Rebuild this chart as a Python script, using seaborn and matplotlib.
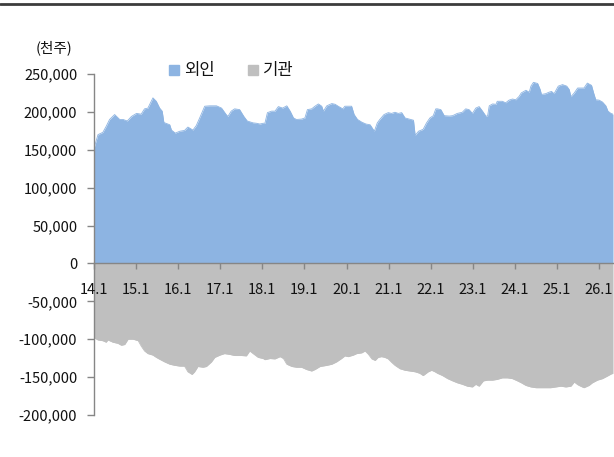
import matplotlib
matplotlib.use('Agg')
import matplotlib.pyplot as plt
from matplotlib.lines import Line2D
from matplotlib.ticker import FuncFormatter
import seaborn as sns

# x = years since Jan 2014, values in thousand shares (천주)
t_fgn = [0.00, 0.095, 0.21, 0.29, 0.37, 0.49, 0.61, 0.69, 0.79, 0.89, 1.01, 1.12, 1.20, 1.28,
         1.40, 1.48, 1.56, 1.62, 1.66, 1.80, 1.84, 1.93, 2.04, 2.15, 2.23, 2.35, 2.43, 2.51,
         2.63, 2.75, 2.91, 3.03, 3.14, 3.18, 3.26, 3.34, 3.46, 3.56, 3.64, 3.78, 3.86, 3.94,
         4.02, 4.06, 4.12, 4.22, 4.30, 4.38, 4.48, 4.58, 4.66, 4.74, 4.81, 4.93, 5.01, 5.07,
         5.17, 5.25, 5.33, 5.41, 5.45, 5.53, 5.65, 5.73, 5.80, 5.91, 5.96, 6.04, 6.12, 6.18,
         6.26, 6.36, 6.46, 6.56, 6.66, 6.73, 6.79, 6.89, 6.99, 7.07, 7.15, 7.23, 7.31, 7.39,
         7.49, 7.59, 7.63, 7.71, 7.82, 7.90, 7.98, 8.06, 8.12, 8.16, 8.24, 8.32, 8.44, 8.52,
         8.63, 8.75, 8.83, 8.91, 8.99, 9.07, 9.15, 9.23, 9.31, 9.35, 9.39, 9.47, 9.55, 9.58,
         9.70, 9.78, 9.86, 9.94, 10.02, 10.10, 10.15, 10.26, 10.34, 10.38, 10.44, 10.54, 10.60,
         10.63, 10.73, 10.81, 10.87, 10.93, 11.03, 11.13, 11.23, 11.29, 11.33, 11.41, 11.49,
         11.56, 11.64, 11.72, 11.82, 11.87, 11.92, 12.00, 12.08, 12.16, 12.21, 12.28, 12.33]
fgn = [152000, 170000, 173000, 181000, 190000, 196500, 190000, 190000, 188000, 194000, 198000,
       197000, 204000, 205000, 218500, 214000, 205000, 201000, 186000, 183000, 176000, 172000,
       174500, 175500, 180000, 176000, 182000, 192000, 207500, 208000, 208000, 205000, 196500,
       194000, 201000, 204000, 203000, 194000, 188000, 185500, 185000, 184000, 185000, 185000,
       199000, 201000, 201000, 207000, 205000, 208000, 201000, 192000, 190000, 190500, 192000,
       203000, 204000, 207500, 210500, 207500, 201000, 208000, 211000, 210000, 207500, 204000,
       207500, 207500, 207500, 196500, 190000, 186500, 184000, 183000, 174500, 185500, 190000,
       196500, 199000, 198000, 199500, 198000, 199000, 192000, 190500, 189000, 169000, 174500,
       177000, 185500, 192000, 195000, 204000, 204000, 203000, 195000, 194500, 195000, 198000,
       199500, 204000, 203000, 198000, 205000, 207000, 201000, 194500, 194500, 208000, 210500,
       210000, 214000, 214000, 212000, 215500, 217000, 216000, 220500, 225000, 228500, 226000,
       234000, 239000, 237500, 229500, 223000, 224000, 226000, 227000, 224000, 234000, 236000,
       234000, 229500, 220000, 225000, 231500, 231500, 231500, 238000, 235000, 225000, 216000,
       215500, 213000, 208000, 201000, 198000, 197000]

t_inst = [0.00, 0.095, 0.21, 0.29, 0.33, 0.45, 0.57, 0.65, 0.73, 0.81, 0.93, 1.05, 1.12, 1.20,
          1.28, 1.40, 1.48, 1.56, 1.68, 1.80, 1.92, 2.04, 2.15, 2.23, 2.33, 2.39, 2.47, 2.59,
          2.67, 2.79, 2.87, 2.99, 3.10, 3.22, 3.34, 3.50, 3.62, 3.70, 3.78, 3.90, 4.02, 4.06,
          4.18, 4.30, 4.42, 4.50, 4.58, 4.70, 4.81, 4.93, 5.05, 5.17, 5.25, 5.37, 5.53, 5.65,
          5.76, 5.88, 5.96, 6.04, 6.16, 6.24, 6.36, 6.44, 6.52, 6.60, 6.68, 6.75, 6.83, 6.91,
          6.99, 7.07, 7.15, 7.27, 7.39, 7.51, 7.63, 7.74, 7.82, 7.94, 8.02, 8.10, 8.16, 8.28,
          8.40, 8.52, 8.63, 8.75, 8.87, 8.99, 9.07, 9.15, 9.25, 9.35, 9.47, 9.58, 9.70, 9.82,
          9.94, 10.06, 10.15, 10.26, 10.38, 10.50, 10.61, 10.73, 10.85, 10.97, 11.09, 11.21,
          11.33, 11.41, 11.49, 11.56, 11.64, 11.76, 11.84, 11.96, 12.08, 12.20, 12.28, 12.33]
inst = [-98000, -101000, -102000, -104000, -101000, -104000, -105500, -108000, -107000,
        -100000, -100000, -102000, -109000, -115500, -119000, -121000, -124000, -126500,
        -130000, -133000, -134500, -135500, -135500, -143000, -146500, -143000, -136000,
        -137000, -136000, -130000, -124000, -121000, -119000, -120000, -121500, -121500,
        -122000, -115500, -119000, -124000, -125500, -127000, -125500, -126000, -123000,
        -125500, -133000, -136000, -137000, -137000, -140000, -142000, -140000, -136000,
        -134500, -133000, -130000, -125500, -122000, -123000, -121000, -119000, -118000,
        -115500, -120000, -126000, -128000, -124000, -123000, -124000, -126000, -130500,
        -134500, -139000, -141000, -142000, -143000, -145000, -148000, -143000, -141000,
        -143000, -145000, -148000, -152000, -155000, -157500, -159500, -162000, -163000,
        -159500, -162000, -155000, -154000, -154000, -153000, -151000, -151000, -152000,
        -155000, -157500, -161000, -163000, -164000, -164000, -164000, -164000, -163000,
        -162000, -163000, -162000, -156500, -160000, -162000, -164000, -161000, -157500,
        -154000, -152000, -148500, -146000, -145000]

x_ticks = list(range(13))
x_labels = ['14.1', '15.1', '16.1', '17.1', '18.1', '19.1', '20.1',
            '21.1', '22.1', '23.1', '24.1', '25.1', '26.1']
y_ticks = [-200000, -150000, -100000, -50000, 0, 50000, 100000, 150000, 200000, 250000]

blue = '#8DB4E2'
grey = '#BFBFBF'
axis_col = '#868686'

sns.set_style('white')
plt.rcParams['font.family'] = ['Noto Sans CJK KR', 'DejaVu Sans']
plt.rcParams['text.color'] = '#111111'

fig = plt.figure(figsize=(6.14, 4.57), dpi=100)
ax = fig.add_axes([94/614, 42/457, 519/614, 341/457])
ax.set_axisbelow(False)

ax.fill_between(t_fgn, fgn, 0, color=blue, lw=0, zorder=1)
ax.fill_between(t_inst, inst, 0, color=grey, lw=0, zorder=1)
sns.lineplot(x=t_fgn, y=fgn, color=blue, lw=0.6, ax=ax, zorder=1)
sns.lineplot(x=t_inst, y=inst, color=grey, lw=0.6, ax=ax, zorder=1)

ax.set_xlim(0, 12.33)
ax.set_ylim(-200000, 250000)
ax.set_xticks(x_ticks)
ax.set_xticklabels(x_labels)
ax.set_yticks(y_ticks)
ax.yaxis.set_major_formatter(FuncFormatter(lambda v, p: f'{v:,.0f}'))

for s in ['top', 'right']:
    ax.spines[s].set_visible(False)
ax.spines['bottom'].set_position(('data', 0))
for s in ['left', 'bottom']:
    ax.spines[s].set_color(axis_col)
    ax.spines[s].set_linewidth(1.0)
    ax.spines[s].set_zorder(3)

ax.tick_params(axis='y', direction='out', length=5, width=1, color=axis_col,
               labelsize=10.5, labelcolor='#111111', pad=7, left=True)
ax.tick_params(axis='x', direction='out', length=4, width=1, color=axis_col,
               labelsize=10.5, labelcolor='#111111', pad=10, bottom=True)
ax.xaxis.set_zorder(3)
ax.yaxis.set_zorder(3)
ax.set_xlabel('')
ax.set_ylabel('')
ax.grid(False)

handles = [Line2D([], [], marker='s', ls='', color=blue, markersize=7.5),
           Line2D([], [], marker='s', ls='', color=grey, markersize=7.5)]
ax.legend(handles, ['외인', '기관'], ncol=2, frameon=False, loc='center left',
          bbox_to_anchor=(152/614, 1 - 71/457), bbox_transform=fig.transFigure,
          handletextpad=0.2, columnspacing=1.9, handlelength=0.8, fontsize=12)

fig.text(36/614, 1 - 48/457, '(천주)', ha='left', va='center', fontsize=10.5)
fig.add_artist(Line2D([0, 1], [1 - 3.7/457, 1 - 3.7/457], transform=fig.transFigure,
                      color='#3c3c3c', lw=2))

fig.savefig('out.png', dpi=100)
